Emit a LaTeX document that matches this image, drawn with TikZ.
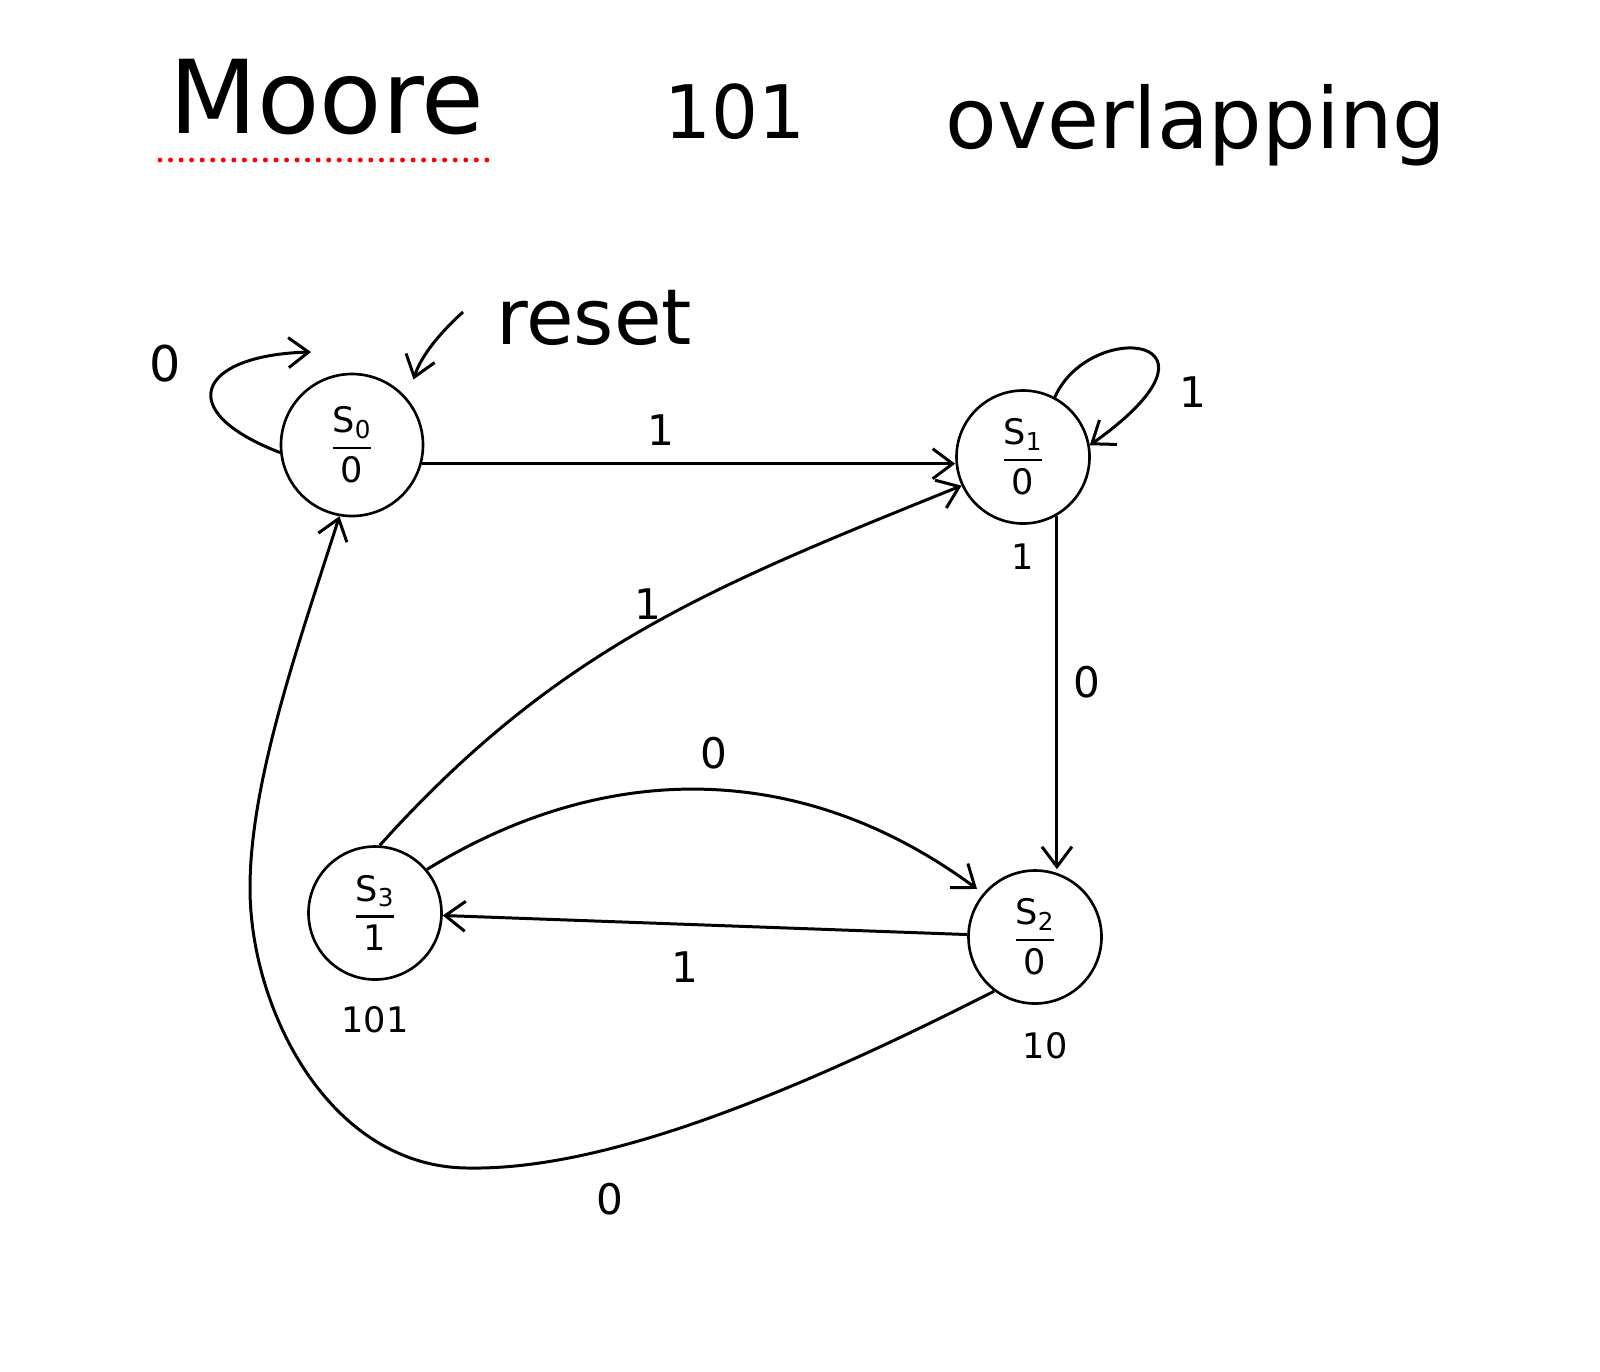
\documentclass[tikz,border=0pt]{standalone}
\usepackage{amsmath}
\usepackage{fontspec}
\setmainfont{DejaVu Sans}
\usetikzlibrary{arrows.meta,positioning}

\newcommand{\stlabel}[2]{$\genfrac{}{}{1.4pt}{0}{\text{S}_{\text{#1}}}{\text{#2}}$}

\begin{document}
\begin{tikzpicture}[
    x=0.2mm, y=-0.2mm,
    line width=1.7pt,
    every node/.style={font=\fontsize{24}{28}\selectfont},
    st/.style={draw,circle,line width=1.5pt,minimum size=26.6mm,inner sep=0pt,font=\fontsize{20}{24}\selectfont},
    arr/.style={-{Straight Barb[length=4mm,width=6mm]},line width=1.7pt},
    note/.style={font=\fontsize{20}{24}\selectfont},
    ttl/.style={anchor=base}
]
\useasboundingbox (0,0) rectangle (1600,1371);

% heading
\node[ttl,font=\fontsize{58}{62}\selectfont] (moore) at (327,133) {Moore};
\node[ttl,font=\fontsize{42}{46}\selectfont] (seq) at (735,138) {101};
\node[ttl,font=\fontsize{48}{52}\selectfont] (ovl) at (1196,148) {overlapping};
\draw[red,line width=2.8pt,line cap=round,dash pattern=on 0pt off 6pt] (160,160) -- (488,160);

% states
\node[st,minimum size=28.4mm] (s0) at (352,445) {\stlabel{0}{0}};
\node[st] (s1) at (1023,457) {\stlabel{1}{0}};
\node[st] (s2) at (1035,937) {\stlabel{2}{0}};
\node[st] (s3) at (375,913) {\stlabel{3}{1}};

\node[note,below=2.4mm of s1] (o1) {1};
\node[note,below=4mm of s2,xshift=2mm] (o2) {10};
\node[note,below=3.6mm of s3] (o3) {101};

% reset
\node[font=\fontsize{44}{48}\selectfont] (rst) at (594,318) {reset};
\coordinate (rstart) at (463,312);
\draw[arr,shorten >=4mm] (rstart) to[bend right=15] (s0.40);

% transitions
\coordinate (s0loop) at (311,352);
\draw[arr] (s0.186) .. controls (170,410) and (200,355) .. (s0loop);
\node[font=\fontsize{28}{32}\selectfont] (l00) at (165,364) {0};

\draw[arr] (s1.62) .. controls (1090,318) and (1245,335) .. (s1.10);
\node (l11) at (1193,392) {1};

\draw[arr] (s0.-15) -- (s0.-15 -| s1.west);
\node (l01) at (661,430) {1};

\draw[arr] (s3.86) to[out=48,in=202] (s1.205);
\node (l31) at (648,604) {1};

\draw[arr] (s1.-60) -- (s1.-60 |- s2.north);
\node (l12) at (1087,682) {0};

\draw[arr,shorten >=1.5mm] (s3.40) to[bend left=34] (s2.140);
\node (l32) at (714,753) {0};

\draw[arr] (s2) -- (s3);
\node (l23) at (685,967) {1};

\draw[arr] (s2.233) .. controls (780,1100) and (600,1170) .. (469,1168)
    .. controls (330,1168) and (250,1010) .. (250,888)
    .. controls (250,780) and (300,640) .. (s0.-100);
\node (l20) at (610,1199) {0};
\end{tikzpicture}
\end{document}
